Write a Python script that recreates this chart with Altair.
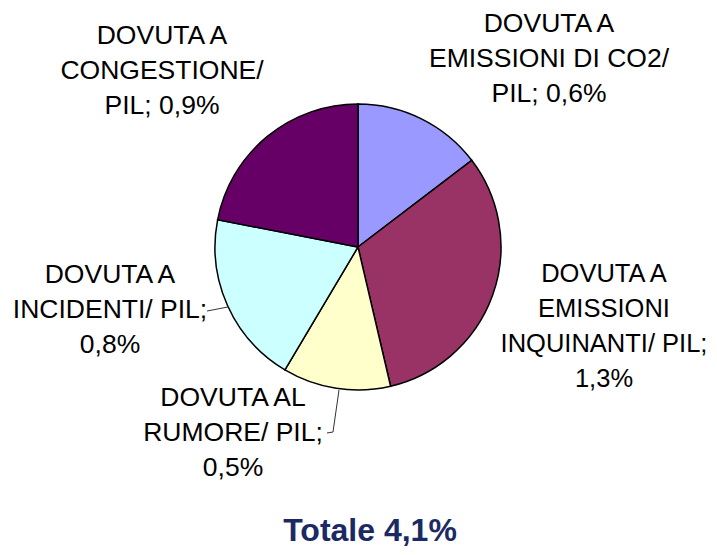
import altair as alt
import pandas as pd

categories = ["CO2", "INQUINANTI", "RUMORE", "INCIDENTI", "CONGESTIONE"]
values = [0.6, 1.3, 0.5, 0.8, 0.9]
colors = ["#9999FF", "#993366", "#FFFFCC", "#CCFFFF", "#660066"]
labels = [
    "DOVUTA A\nEMISSIONI DI CO2/\nPIL; 0,6%",
    "DOVUTA A\nEMISSIONI\nINQUINANTI/ PIL;\n1,3%",
    "DOVUTA AL\nRUMORE/ PIL;\n0,5%",
    "DOVUTA A\nINCIDENTI/ PIL;\n0,8%",
    "DOVUTA A\nCONGESTIONE/\nPIL; 0,9%",
]
title_text = "Totale 4,1%"

df = pd.DataFrame({"cat": categories, "value": values, "order": list(range(len(categories)))})

CX, CY, R = 350, 239, 143
FONT = "Liberation Sans"

pie = alt.Chart(df).mark_arc(outerRadius=R, stroke="black", strokeWidth=1.5).encode(
    theta=alt.Theta("value:Q", stack=True),
    order=alt.Order("order:Q"),
    color=alt.Color("cat:N", scale=alt.Scale(domain=categories, range=colors), legend=None),
    x=alt.value(CX),
    y=alt.value(CY),
)

# (center x, first-line middle y, font size) of each label block
label_pos = [(541, 16, 26.5), (596, 266, 25.5), (225, 390, 26.5), (102, 267, 26.5), (154, 28, 26.5)]
layers = [pie]
for txt, (lx, ly, fs) in zip(labels, label_pos):
    layers.append(
        alt.Chart(df.head(1)).mark_text(
            font=FONT, fontSize=fs, lineBreak="\n", lineHeight=35,
            align="center", baseline="middle", color="black",
        ).encode(x=alt.value(lx), y=alt.value(ly), text=alt.value(txt))
    )

leaders = [
    ((199, 303), (220, 299)),
    ((331, 382), (325, 424)),
    ((325, 424), (319, 425)),
]
for (x1, y1), (x2, y2) in leaders:
    layers.append(
        alt.Chart(df.head(1)).mark_rule(color="#333333", strokeWidth=1).encode(
            x=alt.value(x1), y=alt.value(y1), x2=alt.value(x2), y2=alt.value(y2)
        )
    )

layers.append(
    alt.Chart(df.head(1)).mark_text(
        font=FONT, fontSize=32, fontWeight="bold", color="#1C2A64",
        align="center", baseline="alphabetic",
    ).encode(x=alt.value(362), y=alt.value(533), text=alt.value(title_text))
)

chart = alt.layer(*layers).properties(
    width=701, height=539, autosize=alt.AutoSizeParams(type="none"), padding=0
).configure_view(stroke=None)

chart.save("out.html", embed_options={"renderer": "svg", "actions": False})
